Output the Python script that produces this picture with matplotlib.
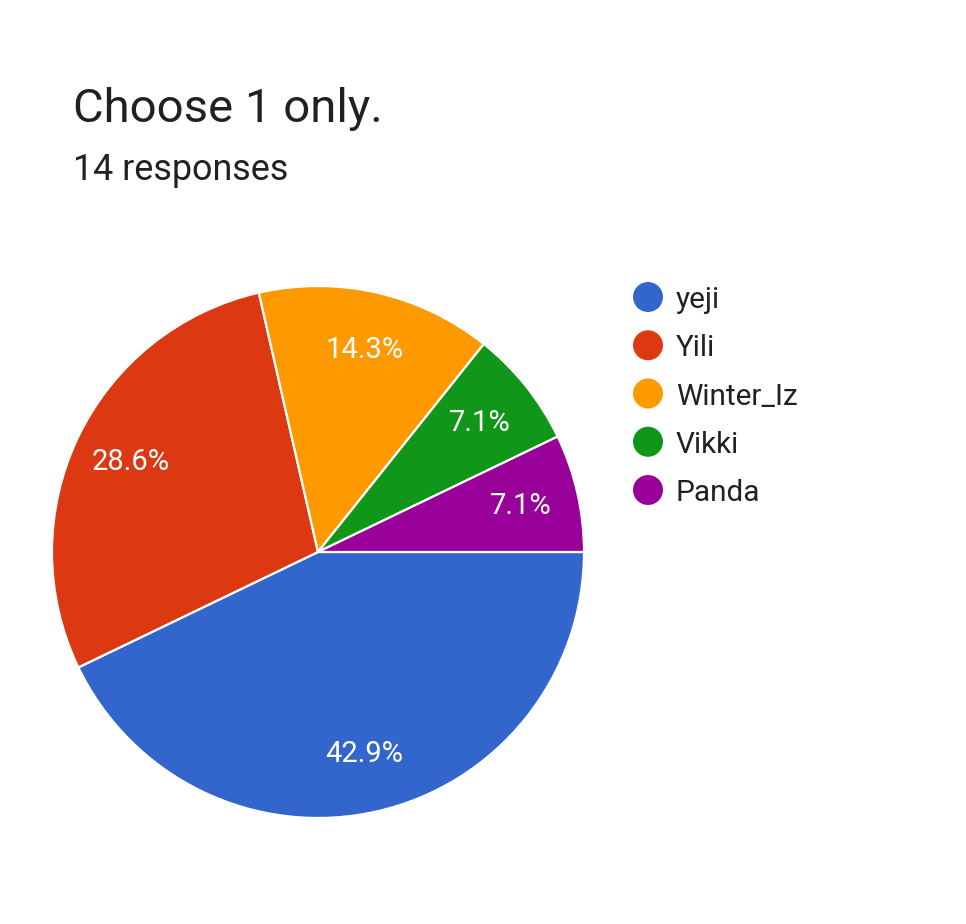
import matplotlib
matplotlib.use("Agg")
import matplotlib.pyplot as plt
from matplotlib.patches import Circle

labels = ["yeji", "Yili", "Winter_Iz", "Vikki", "Panda"]
counts = [6, 4, 2, 1, 1]
colors = ["#3366cc", "#dc3912", "#ff9900", "#109618", "#990099"]
title = "Choose 1 only."
subtitle = "14 responses"

plt.rcParams['font.family'] = ['Roboto', 'DejaVu Sans']

W, H = 966, 924
fig = plt.figure(figsize=(W / 100, H / 100), dpi=100)
fig.patch.set_facecolor("white")

cx, cy, r = 318, 552, 266
ax = fig.add_axes([(cx - r) / W, (H - cy - r) / H, 2 * r / W, 2 * r / H])
wedges, texts, autotexts = ax.pie(
    counts, colors=colors, startangle=0, counterclock=False,
    autopct="%1.1f%%", pctdistance=0.78, radius=1,
    wedgeprops=dict(edgecolor="white", linewidth=1.6),
    textprops=dict(color="white", fontsize=21))
ax.set_xlim(-1, 1)
ax.set_ylim(-1, 1)
ax.set_aspect("auto")
ax.axis("off")

fig.text(73 / W, 1 - 122 / H, title, fontsize=34, color="#202124", va="baseline", ha="left")
fig.text(73 / W, 1 - 180 / H, subtitle, fontsize=25.8, color="#202124", va="baseline", ha="left")

y0, dy = 297, 48.25
for i, (lab, col) in enumerate(zip(labels, colors)):
    yc = y0 + i * dy
    fig.patches.append(Circle((648, H - yc), 15, transform=None, facecolor=col,
                              edgecolor="none", figure=fig))
    fig.text(676 / W, 1 - yc / H, lab, fontsize=21.4, color="#212121", va="center_baseline", ha="left")

fig.savefig("out.png", dpi=100, facecolor="white")
